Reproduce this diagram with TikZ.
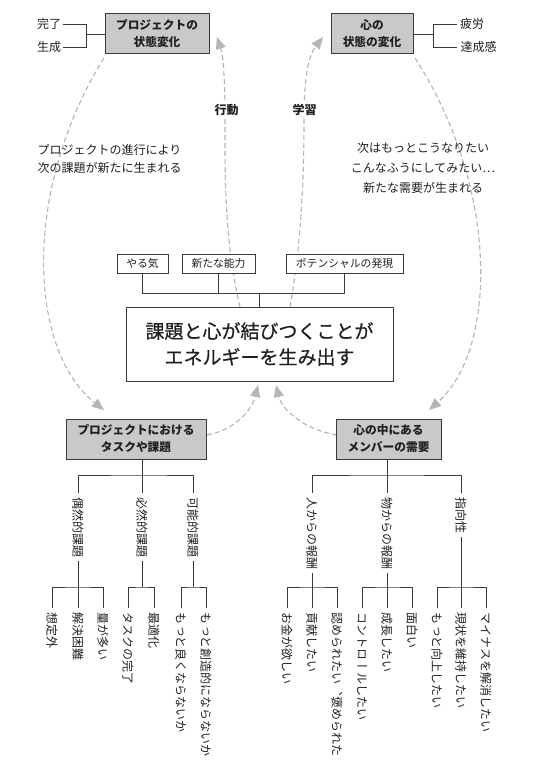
\documentclass[tikz,border=0pt]{standalone}
\usepackage{fontspec}
\setmainfont{Noto Sans CJK JP}
\newfontfamily\tatefont[Vertical=RotatedGlyphs]{Noto Sans CJK JP}
\newfontfamily\medfont[FakeBold=0.6]{Noto Sans CJK JP}
\usetikzlibrary{arrows.meta}
\definecolor{linec}{HTML}{3A3A3A}
\definecolor{boxfill}{HTML}{C9C9C9}
\definecolor{dashc}{HTML}{B5B5B5}
\definecolor{txt}{HTML}{231F20}
\begin{document}
\begin{tikzpicture}[x=1pt,y=-1pt,
 every node/.style={text=txt},
 titlebox/.style={draw=linec, fill=boxfill, line width=1pt, inner sep=0pt, align=center, font=\bfseries\fontsize{11.7}{17}\selectfont},
 plainbox/.style={draw=linec, fill=white, line width=1pt, inner sep=0pt, align=center},
 lbl/.style={inner sep=0pt, font=\fontsize{12}{12}\selectfont},
 vlbl/.style={rotate=-90, anchor=west, inner sep=0pt, font=\tatefont\fontsize{12}{12}\selectfont},
 conn/.style={draw=linec, line width=0.9pt},
 flow/.style={draw=dashc, line width=1.1pt, dash pattern=on 5pt off 3pt, -{Triangle[length=12pt,width=10pt,fill=dashc]}}
]
\useasboundingbox (0,0) rectangle (538,773);
\fill[white] (0,0) rectangle (538,773);

% flows (drawn first, boxes cover them)
\coordinate (a1s) at (240,307);
\coordinate (a1m) at (225,120);
\coordinate (a1e) at (217,37);
\coordinate (a2s) at (290,307);
\coordinate (a2m) at (304,120);
\coordinate (a2e) at (323,37);
\coordinate (a3s) at (104,58);
\coordinate (a3e) at (104,410);
\coordinate (a4s) at (415,58);
\coordinate (a4e) at (429,410);
\coordinate (a5s) at (207,435);
\coordinate (a5e) at (258,385);
\coordinate (a6s) at (337,435);
\coordinate (a6e) at (276,385);
\draw[flow] (a1s) .. controls (224,240) and (225,170) .. (a1m) .. controls (225,75) and (223,55) .. (a1e);
\draw[flow] (a2s) .. controls (302,240) and (304,170) .. (a2m) .. controls (304,75) and (309,55) .. (a2e);
\draw[flow] (a3s) .. controls (22,190) and (28,350) .. (a3e);
\draw[flow] (a4s) .. controls (500,190) and (497,350) .. (a4e);
\draw[flow] (a5s) .. controls (235,430) and (252,410) .. (a5e);
\draw[flow] (a6s) .. controls (305,430) and (282,410) .. (a6e);

% title boxes
\node[titlebox, minimum width=104pt, minimum height=40pt] (tl) at (157,34) {プロジェクトの\\状態変化};
\node[titlebox, minimum width=82pt, minimum height=40pt] (tr) at (372,34) {心の\\状態の変化};
\node[titlebox, minimum width=140pt, minimum height=40pt] (bl) at (136,439) {プロジェクトにおける\\タスクや課題};
\node[titlebox, minimum width=105pt, minimum height=40pt] (br) at (388.5,439) {心の中にある\\メンバーの需要};

% main box and small boxes
\node[plainbox, minimum width=267pt, minimum height=74pt, font=\medfont\fontsize{19}{26}\selectfont] (main) at (259.5,344) {課題と心が結びつくことが\\エネルギーを生み出す};
\node[plainbox, minimum width=51pt, minimum height=19pt, font=\fontsize{10.8}{12}\selectfont] (s1) at (142.5,263.5) {やる気};
\node[plainbox, minimum width=73pt, minimum height=19pt, font=\fontsize{10.8}{12}\selectfont] (s2) at (218.5,263.5) {新たな能力};
\node[plainbox, minimum width=117pt, minimum height=19pt, font=\fontsize{10.8}{12}\selectfont] (s3) at (344.5,263.5) {ポテンシャルの発現};
\coordinate (sj) at (259.5,293);
\draw[conn] (s1.south) |- (s3.south |- sj) -- (s3.south);
\draw[conn] (s2.south) -- (s2.south |- sj);
\draw[conn] (sj) -- (main.north);

% top side labels
\node[lbl] (k1) at (49,24) {完了};
\node[lbl] (k2) at (49,47) {生成};
\coordinate (kbt) at (86,24);
\coordinate (kbb) at (86,47);
\draw[conn] ([xshift=2pt]k1.east) -- (kbt) -- (kbb) -- ([xshift=2pt]k2.east);
\draw[conn] (kbt |- tl.west) -- (tl.west);
\node[lbl] (f1) at (472,24) {疲労};
\node[lbl] (f2) at (478.5,47) {達成感};
\coordinate (fbt) at (433,24);
\coordinate (fbb) at (433,47);
\draw[conn] ([xshift=-3pt]f1.west) -- (fbt) -- (fbb) -- ([xshift=-3pt]f1.west |- f2.west);
\draw[conn] (tr.east) -- (tr.east -| fbt);

% middle texts
\node[lbl, fill=white, inner sep=2pt, font=\bfseries\fontsize{12}{12}\selectfont] (act) at (226.5,110) {行動};
\node[lbl, fill=white, inner sep=2pt, font=\bfseries\fontsize{12}{12}\selectfont] (learn) at (304.5,110) {学習};
\node[lbl, align=center, font=\fontsize{12}{18}\selectfont] (ltext) at (109.5,159) {プロジェクトの進行により\\次の課題が新たに生まれる};
\node[lbl, align=center, font=\fontsize{12}{20}\selectfont] (rtext) at (423,168) {次はもっとこうなりたい\\こんなふうにしてみたい…\\新たな需要が生まれる};

% left tree
\node[vlbl] (g1) at (78,497) {偶然的課題};
\node[vlbl] (g2) at (142,497) {必然的課題};
\node[vlbl] (g3) at (193,497) {可能的課題};
\coordinate (LJ) at (142,475);
\coordinate (sub) at (0,587);
\draw[conn] (bl.south -| LJ) -- ([yshift=4pt]g2.west);
\draw[conn] ([yshift=4pt]g1.west) |- (LJ) -| ([yshift=4pt]g3.west);

\node[vlbl] (l11) at (52,612) {想定外};
\node[vlbl] (l12) at (78,612) {解決困難};
\node[vlbl] (l13) at (103,612) {量が多い};
\node[vlbl] (l21) at (128,612) {タスクの完了};
\node[vlbl] (l22) at (154,612) {最適化};
\node[vlbl] (l31) at (181,612) {もっと良くならないか};
\node[vlbl] (l32) at (206,612) {もっと創造的にならないか};
\draw[conn] ([yshift=-4pt]g1.east) -- ([yshift=4pt]l12.west);
\draw[conn] ([yshift=4pt]l11.west) |- (sub -| l12.west) -| ([yshift=4pt]l13.west);
\draw[conn] ([yshift=-4pt]g2.east) -- (sub -| g2.east);
\draw[conn] ([yshift=4pt]l21.west) |- (sub -| g2.east) -| ([yshift=4pt]l22.west);
\draw[conn] ([yshift=-4pt]g3.east) -- (sub -| g3.east);
\draw[conn] ([yshift=4pt]l31.west) |- (sub -| g3.east) -| ([yshift=4pt]l32.west);

% right tree
\node[vlbl] (h1) at (312,497) {人からの報酬};
\node[vlbl] (h2) at (387,497) {物からの報酬};
\node[vlbl] (h3) at (461,497) {指向性};
\coordinate (RJ) at (387,475);
\draw[conn] (br.south -| RJ) -- ([yshift=4pt]h2.west);
\draw[conn] ([yshift=4pt]h1.west) |- (RJ) -| ([yshift=4pt]h3.west);

\node[vlbl] (m11) at (287,612) {お金が欲しい};
\node[vlbl] (m12) at (312,612) {貢献したい};
\node[vlbl] (m13) at (337,612) {認められたい、褒められた};
\node[vlbl] (m21) at (362,612) {コントロールしたい};
\node[vlbl] (m22) at (387,612) {成長したい};
\node[vlbl] (m23) at (412,612) {面白い};
\node[vlbl] (m31) at (437,612) {もっと向上したい};
\node[vlbl] (m32) at (461,612) {現状を維持したい};
\node[vlbl] (m33) at (486,612) {マイナスを解消したい};
\draw[conn] ([yshift=-4pt]h1.east) -- ([yshift=4pt]m12.west);
\draw[conn] ([yshift=4pt]m11.west) |- (sub -| m12.west) -| ([yshift=4pt]m13.west);
\draw[conn] ([yshift=-4pt]h2.east) -- ([yshift=4pt]m22.west);
\draw[conn] ([yshift=4pt]m21.west) |- (sub -| m22.west) -| ([yshift=4pt]m23.west);
\draw[conn] ([yshift=-4pt]h3.east) -- ([yshift=4pt]m32.west);
\draw[conn] ([yshift=4pt]m31.west) |- (sub -| m32.west) -| ([yshift=4pt]m33.west);
\end{tikzpicture}
\end{document}
